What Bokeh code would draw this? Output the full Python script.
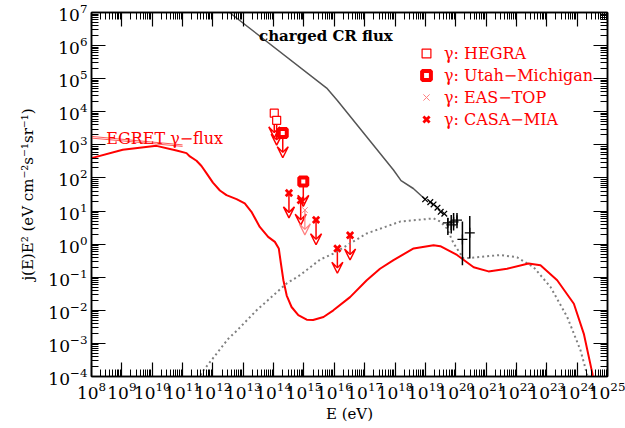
from bokeh.plotting import figure
from bokeh.models import (LogAxis, FixedTicker, Label, Arrow, VeeHead, ColumnDataSource,
                          Range1d, Legend)
from bokeh.embed import file_html
from bokeh.resources import INLINE

# ---------------- data ----------------
# charged cosmic-ray flux, grey line
cr_line_E = [3.5e12, 5.6e15, 1.26e16, 8.9e17, 1.58e18, 4.0e18, 1.0e19]
cr_line_j = [1.0e7, 5.2e4, 2.2e4, 174, 83, 48, 22.4]

# cosmic-ray measurements (x markers)
cr_pts_E = [9.8e18, 1.45e19, 1.86e19, 2.5e19, 3.2e19, 4.2e19]
cr_pts_j = [22.6, 18.6, 15.8, 12.6, 9.5, 8.3]

# cosmic-ray measurements with error bars (+ markers)
cr_err_E = [5.5e19, 7.1e19, 8.5e19, 1.1e20, 1.66e20, 2.9e20]
cr_err_j = [4.4, 3.8, 4.7, 5.3, 1.39, 2.2]
cr_err_lo = [1.9, 2.1, 2.6, 3.0, 0.23, 0.37]
cr_err_hi = [6.2, 7.6, 8.7, 8.7, 4.8, 7.1]

# predicted gamma-ray flux, red line
gam_E = [1.0e8, 1.07e9, 1.38e10, 6.3e10, 1.35e11, 1.74e11, 2.88e11, 4.2e11, 6.2e11,
         1.0e12, 1.7e12, 2.8e12, 6.0e12, 1.12e13, 1.86e13, 3.5e13, 6.6e13, 1.1e14,
         1.48e14, 1.74e14, 2.1e14, 2.7e14, 3.9e14, 6.5e14, 1.23e15, 2.0e15, 4.4e15,
         9.3e15, 3.3e16, 1.17e17, 3.2e17, 8.9e17, 4.1e18, 1.86e19, 3.1e19, 1.1e20,
         3.9e20, 1.2e21, 4.9e21, 2.5e22, 6.2e22, 2.2e23, 7.8e23, 1.66e24, 3.2e24, 3.5e24]
gam_j = [398, 708, 933, 676, 562, 447, 331, 229, 138,
         72, 41.7, 30.2, 22.9, 17.0, 9.5, 3.3, 1.66, 1.17,
         0.74, 0.26, 0.081, 0.028, 0.0126, 0.0071, 0.0052, 0.0051, 0.0063,
         0.010, 0.025, 0.081, 0.18, 0.33, 0.74, 0.93, 0.87, 0.47,
         0.20, 0.15, 0.18, 0.26, 0.23, 0.081, 0.0158, 0.00195, 0.00012, 5e-5]

# second model curve, grey dotted
dot_E = [3.5e11, 4.3e11, 3.2e12, 6.2e12, 2.75e13, 2.7e14, 7.4e14, 3.4e15, 9.3e15,
         1.17e17, 1.48e18, 1.86e19, 3.1e19, 5.1e19, 8.5e19, 1.8e20, 5.0e20, 3.0e21,
         1.05e22, 3.7e22, 1.32e23, 4.7e23, 1.29e24, 2.1e24, 2.5e24]
dot_j = [7.9e-5, 1.32e-4, 1.38e-3, 2.45e-3, 0.010, 0.065, 0.115, 0.34, 0.52,
         2.1, 4.8, 6.0, 4.8, 3.0, 1.05, 0.37, 0.40, 0.47,
         0.40, 0.20, 0.051, 0.0063, 6.2e-4, 1.2e-4, 6.3e-5]

# EGRET gamma-flux band
egret_E = [1.0e8, 1.0e11]
egret_hi = [1.8e3, 1.0e3]
egret_lo = [1.6e3, 0.9e3]

# gamma-ray upper limits
hegra_E = [1.05e14, 1.26e14]
hegra_j = [9.1e3, 5.5e3]
utah_E = [2.0e14, 9.5e14]
utah_j = [2.3e3, 78]
eastop_E = [1.07e15]
eastop_j = [10.7]
casa_E = [3.2e14, 7.8e14, 2.5e15, 1.26e16, 3.3e16]
casa_j = [35, 21, 5.4, 0.74, 1.86]

x_tick_exp = list(range(8, 26))
y_tick_exp = list(range(-4, 8))

# ---------------- figure ----------------
FONT = "DejaVu Serif"
RED = "#ff0000"

p = figure(width=625, height=428, x_axis_type="log", y_axis_type="log",
           x_range=Range1d(1e8, 1e25), y_range=Range1d(1e-4, 1e7),
           output_backend="svg", toolbar_location=None,
           min_border_left=91, min_border_right=18, min_border_top=12,
           min_border_bottom=52)
p.grid.visible = False
p.outline_line_color = "black"
p.outline_line_width = 1.5
p.background_fill_color = "white"
p.border_fill_color = "white"

xmaj = [10.0 ** k for k in x_tick_exp]
xmin = [m * 10.0 ** k for k in x_tick_exp[:-1] for m in range(2, 10)]
ymaj = [10.0 ** k for k in y_tick_exp]
ymin = [m * 10.0 ** k for k in y_tick_exp[:-1] for m in range(2, 10)]


def style_axis(ax, show_labels=True):
    ax.major_tick_in = 14
    ax.major_tick_out = 0
    ax.minor_tick_in = 7
    ax.minor_tick_out = 0
    ax.axis_line_width = 1.5
    ax.major_tick_line_width = 1.2
    ax.minor_tick_line_width = 1
    ax.major_tick_line_color = "black"
    ax.minor_tick_line_color = "black"
    if show_labels:
        ax.major_label_text_font = FONT
        ax.major_label_text_font_size = "17px"
        ax.major_label_text_color = "black"
        ax.axis_label_text_font = FONT
        ax.axis_label_text_font_size = "15px"
        ax.axis_label_text_font_style = "normal"
        ax.axis_label_text_color = "black"
    else:
        ax.major_label_text_font_size = "1px"
        ax.major_label_text_alpha = 0
        ax.major_label_standoff = 0


xa = p.xaxis[0]
xa.ticker = FixedTicker(ticks=xmaj, minor_ticks=xmin)
xa.axis_label = "E (eV)"
xa.major_label_standoff = 5
xa.axis_label_standoff = 3
style_axis(xa)

ya = p.yaxis[0]
ya.ticker = FixedTicker(ticks=ymaj, minor_ticks=ymin)
ya.axis_label = "j(E)E² (eV cm⁻²s⁻¹sr⁻¹)"
ya.major_label_standoff = 4
ya.axis_label_standoff = 8
style_axis(ya)

top = LogAxis(ticker=FixedTicker(ticks=xmaj, minor_ticks=xmin))
style_axis(top, show_labels=False)
p.add_layout(top, "above")
right = LogAxis(ticker=FixedTicker(ticks=ymaj, minor_ticks=ymin))
style_axis(right, show_labels=False)
p.add_layout(right, "right")

# ---------------- curves ----------------
p.line(dot_E, dot_j, line_color="#808080", line_width=2, line_dash="2 3")
p.line(cr_line_E, cr_line_j, line_color="#555555", line_width=1.5)
p.line(gam_E, gam_j, line_color=RED, line_width=2)
p.line(egret_E, egret_hi, line_color="#ff5a5a", line_width=1)
p.line(egret_E, egret_lo, line_color="#ff5a5a", line_width=1)

# cosmic-ray data
p.scatter(cr_pts_E, cr_pts_j, marker="x", size=8, line_color="black", line_width=1.3)
p.segment(x0=cr_err_E, y0=cr_err_lo, x1=cr_err_E, y1=cr_err_hi,
          line_color="black", line_width=1.5)
p.scatter(cr_err_E, cr_err_j, marker="cross", size=10, line_color="black", line_width=1.3)

# ---------------- gamma upper limits with arrows ----------------
ARROW_FACTOR = 10 ** -0.75


def arrows(E, j, color, width):
    src = ColumnDataSource(dict(x=E, y=j, ye=[v * ARROW_FACTOR for v in j]))
    a = Arrow(x_start="x", y_start="y", x_end="x", y_end="ye", source=src,
              line_color=color, line_width=width, level="underlay",
              end=VeeHead(size=11, line_color=color, line_width=width, fill_alpha=0))
    p.add_layout(a)


arrows(hegra_E, hegra_j, RED, 1.5)
arrows(utah_E, utah_j, RED, 1.5)
arrows(casa_E, casa_j, RED, 1.5)
arrows(eastop_E, eastop_j, "#ff8080", 1.2)

r_hegra = p.scatter(hegra_E, hegra_j, marker="square", size=8, line_color=RED,
                    fill_color="white", line_width=1.2)
r_utah = p.scatter(utah_E, utah_j, marker="square", size=8, line_color=RED,
                   fill_color="white", line_width=4)
r_eas = p.scatter(eastop_E, eastop_j, marker="x", size=8, line_color="#ff8080",
                  line_width=1)
r_casa = p.scatter(casa_E, casa_j, marker="x", size=9, line_color=RED, line_width=2.8)

legend = Legend(items=[("γ: HEGRA", [r_hegra]),
                       ("γ: Utah−Michigan", [r_utah]),
                       ("γ: EAS−TOP", [r_eas]),
                       ("γ: CASA−MIA", [r_casa])],
                location=(324, 246))
legend.border_line_alpha = 0
legend.background_fill_alpha = 0
legend.label_text_font = FONT
legend.label_text_font_size = "16px"
legend.label_text_color = RED
legend.glyph_width = 22
legend.glyph_height = 22
legend.label_height = 20
legend.label_standoff = 7
legend.spacing = 0
legend.padding = 0
legend.margin = 0
p.add_layout(legend, "center")

# ---------------- text labels ----------------
p.add_layout(Label(x=3.3e13, y=1.9e6, text="charged CR flux", text_font=FONT,
                   text_font_size="15px", text_font_style="bold", text_color="black",
                   text_baseline="alphabetic"))
p.add_layout(Label(x=3.05e8, y=1.6e3, text="EGRET γ−flux", text_font=FONT,
                   text_font_size="16px", text_color=RED, text_baseline="alphabetic"))

open("out.html", "w").write(file_html(p, INLINE))
